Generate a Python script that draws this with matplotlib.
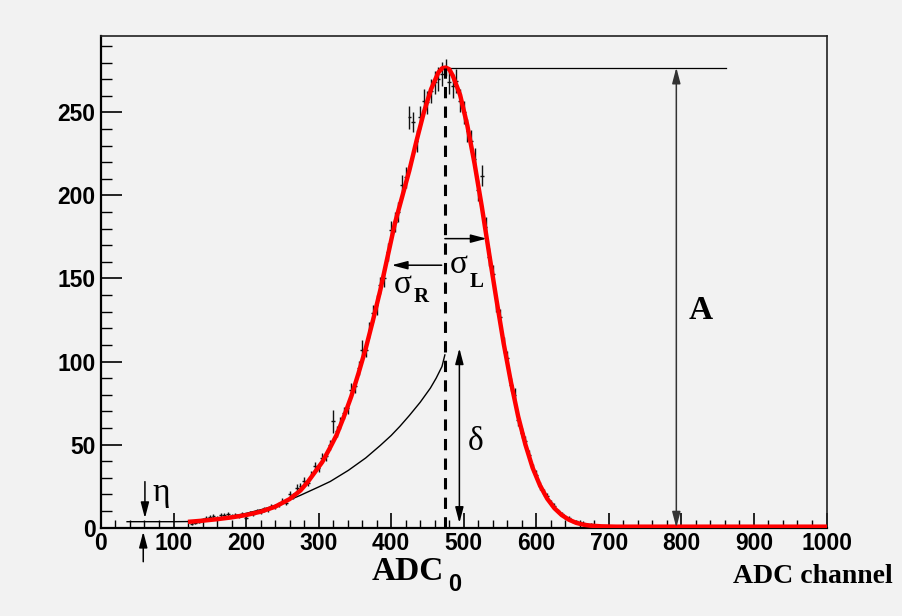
import numpy as np
import matplotlib
matplotlib.use("Agg")
import matplotlib.pyplot as plt
from matplotlib.ticker import MultipleLocator

# histogram (5 ADC bins)
bin_x = np.arange(125, 705, 5)
counts = [2.5, 3, 3.5, 5, 6, 6.5, 7, 6, 7.5, 7.5,
          8, 7, 7.5, 7, 8.5, 6, 9, 8, 10, 9.5,
          11, 11, 13, 13, 14, 16, 15, 20, 19, 24,
          25, 28, 27, 32, 37, 36, 42, 43, 50, 64,
          58, 63, 69, 72, 83, 85, 96, 107, 107, 119,
          129, 134, 146, 150, 166, 179, 184, 190, 206, 211,
          247, 244, 233, 247, 257, 256, 263, 268, 270, 273,
          277, 268, 266, 269, 257, 250, 239, 233, 222, 203,
          212, 181, 163, 153, 135, 127, 110, 102, 86, 80,
          65, 57, 52, 44, 36, 32, 25, 21, 19, 15,
          13, 10, 8, 6, 6, 4, 4, 3, 3, 2,
          2, 1.5, 1, 1, 1, 1]
errors = [0.8, 0.8, 0.9, 1.0, 1.0, 1.0, 1.1, 1.0, 1.1, 1.1,
          1.2, 1.1, 1.1, 1.1, 1.2, 1.0, 1.3, 1.2, 1.3, 1.3,
          1.4, 1.4, 1.5, 1.5, 1.6, 1.7, 1.6, 1.9, 1.8, 2.0,
          2.1, 2.2, 2.2, 2.4, 2.6, 2.5, 2.7, 2.8, 3.0, 7.0,
          3.2, 3.4, 3.5, 3.6, 3.9, 4.0, 4.2, 6.0, 4.4, 4.7,
          4.9, 6.0, 5.2, 5.3, 5.5, 5.8, 5.8, 6.0, 6.2, 6.3,
          6.8, 6.0, 6.6, 6.8, 7.0, 7.0, 7.1, 7.2, 7.2, 7.3,
          5.0, 7.2, 7.2, 7.2, 7.0, 6.9, 6.8, 6.6, 6.5, 6.2,
          6.5, 5.9, 5.6, 5.4, 5.1, 4.9, 4.6, 4.4, 4.0, 3.9,
          3.5, 3.3, 3.1, 2.9, 2.6, 2.5, 2.2, 2.0, 1.9, 1.7,
          1.6, 1.4, 1.2, 1.0, 1.0, 0.9, 0.9, 0.8, 0.8, 0.7,
          0.7, 0.6, 0.5, 0.5, 0.5, 0.5]
extra_x = [715, 730, 745, 760, 865]
extra_y = [1, 1, 1, 0.7, 0.8]

# fitted function (red)
fit_x = [123, 140, 160, 180, 200, 220, 240, 260, 275, 285, 295, 305, 315, 325,
         335, 345, 355, 365, 375, 385, 395, 405, 415, 425, 435, 445, 455, 465,
         470, 475, 480, 485, 495, 505, 515, 525, 535, 545, 555, 565, 575, 585,
         595, 605, 615, 625, 635, 645, 655, 665, 675, 690, 710, 1000]
fit_y = [3.6, 4.2, 5.1, 6.2, 7.6, 9.6, 12.6, 17.2, 22.4, 27.5, 33.5, 39.5, 47.5, 56,
         67, 79, 93, 108, 125, 143, 163, 183, 199, 215, 233, 250, 264, 274,
         276.5, 277, 276, 272, 260.5, 242, 219, 193, 165, 137.5, 111, 87.7, 67, 50,
         36, 25.5, 17.5, 11.7, 7.6, 4.8, 2.9, 1.8, 1.2, 0.8, 0.6, 0.6]

# tail component (black)
tail_x = [36, 100, 123, 150, 175, 201, 225, 247, 275, 300, 316, 341, 365, 385,
          400, 412, 425, 440, 454, 462, 470, 474]
tail_y = [3.6, 3.6, 3.7, 4.8, 6.3, 8.7, 11.3, 14.3, 19.5, 24.5, 27.8, 34.5, 42, 49.5,
          55.5, 61, 67.5, 75.5, 84, 90, 97, 104]

adc0 = 474
amp = 277
eta = 3.6
delta_top = 108

bg = '#f2f2f2'
serif = 'Liberation Serif'
sans = 'Liberation Sans'

fig = plt.figure(figsize=(9.03, 6.16), dpi=100, facecolor=bg)
ax = fig.add_axes([0.1118, 0.1434, 0.8035, 0.7982])
ax.set_facecolor(bg)
ax.set_xlim(0, 1000)
ax.set_ylim(0, 296)

ax.xaxis.set_major_locator(MultipleLocator(100))
ax.xaxis.set_minor_locator(MultipleLocator(20))
ax.yaxis.set_major_locator(MultipleLocator(50))
ax.yaxis.set_minor_locator(MultipleLocator(10))
ax.tick_params(which='both', direction='in', top=False, right=False, color='black')
ax.tick_params(axis='x', which='major', length=10.8, width=1.2, pad=3)
ax.tick_params(axis='x', which='minor', length=5.8, width=1.0)
ax.tick_params(axis='y', which='major', length=15, width=1.2, pad=4)
ax.tick_params(axis='y', which='minor', length=8, width=1.0)
for lab in ax.get_xticklabels() + ax.get_yticklabels():
    lab.set_fontfamily(sans)
    lab.set_fontweight('bold')
    lab.set_fontsize(16.5)

for side in ['left', 'bottom']:
    ax.spines[side].set_linewidth(1.6)
for side in ['top', 'right']:
    ax.spines[side].set_linewidth(1.2)
    ax.spines[side].set_color('#222222')

ax.errorbar(bin_x, counts, yerr=errors, xerr=2.5, fmt='none', ecolor='#111111',
            elinewidth=1.0, capsize=0, zorder=3)
ax.errorbar(extra_x, extra_y, xerr=2.5, fmt='none', ecolor='#111111',
            elinewidth=1.0, capsize=0, zorder=3)

ax.plot(tail_x, tail_y, color='black', lw=1.0, zorder=4)
ax.plot(fit_x, fit_y, color='red', lw=3.2, zorder=5)

ax.plot([adc0, adc0], [0, amp], color='black', lw=2.2, linestyle=(0, (3.7, 2.7)), zorder=6)
ax.plot([adc0, 862], [amp, amp], color='black', lw=0.9, zorder=4)

def arrow(x0, y0, x1, y1, style='-|>', color='black'):
    ax.annotate('', xy=(x1, y1), xytext=(x0, y0), annotation_clip=False,
                arrowprops=dict(arrowstyle=style + ',head_length=0.95,head_width=0.25',
                                mutation_scale=10, color=color, lw=1.1,
                                shrinkA=0, shrinkB=0), zorder=6)

# A
arrow(793, 0, 793, amp, style='<|-|>', color='#333333')
ax.text(826, 130.5, 'A', fontsize=24, fontweight='bold', family=serif,
        ha='center', va='center')

# delta
arrow(494, 2.8, 494, delta_top, style='<|-|>')
ax.text(517, 52, 'δ', fontsize=24, family=serif, ha='center', va='center')

# sigma L / R
arrow(adc0, 174, 531.6, 174)
arrow(469.6, 158, 400.7, 158)
ax.text(493.5, 158, 'σ', fontsize=24, family=serif, ha='center', va='center')
ax.text(517.6, 148, 'L', fontsize=15, fontweight='bold', family=serif,
        ha='center', va='center')
ax.text(416, 146, 'σ', fontsize=24, family=serif, ha='center', va='center')
ax.text(441.8, 139, 'R', fontsize=15, fontweight='bold', family=serif,
        ha='center', va='center')

# eta
arrow(60.6, 27.7, 60.6, 5.7)
arrow(58.3, -20.5, 58.3, -2.4)
ax.text(82.7, 21, 'η', fontsize=24, family=serif, ha='center', va='center')

# axis captions
fig.text(0.452, 0.058, 'ADC', fontsize=24, fontweight='bold', family=serif,
         ha='center', va='baseline')
fig.text(0.503, 0.040, '0', fontsize=17, fontweight='bold', family=sans,
         ha='center', va='baseline')
fig.text(0.989, 0.054, 'ADC channel', fontsize=20, fontweight='bold', family=serif,
         ha='right', va='baseline')

fig.savefig('out.png', dpi=100, facecolor=bg)
